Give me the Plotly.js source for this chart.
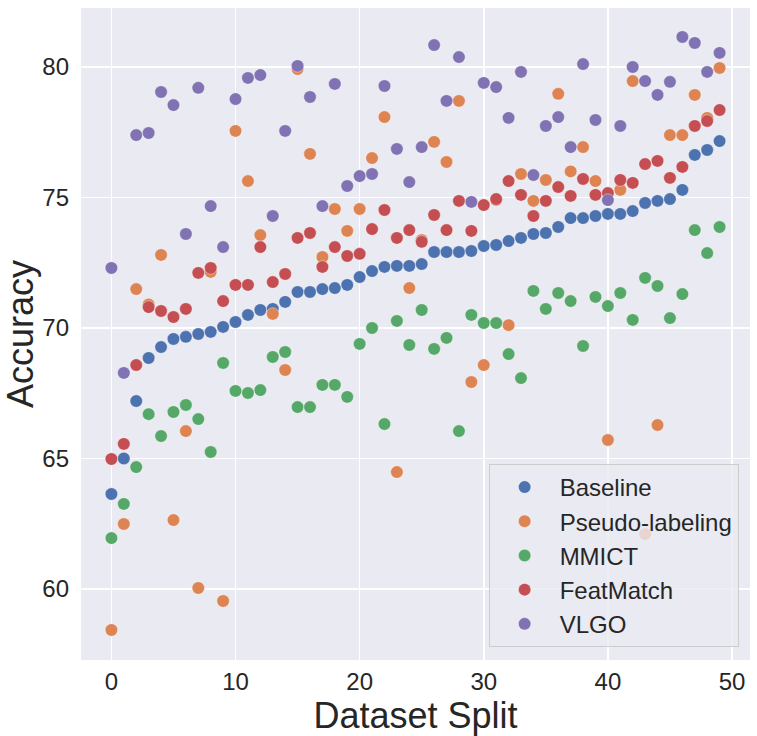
<!DOCTYPE html>
<html>
<head>
<meta charset="utf-8">
<script src="https://cdn.plot.ly/plotly-3.0.1.min.js"></script>
<style>html,body{margin:0;padding:0;background:#fff;}#chart{width:757px;height:736px;}</style>
</head>
<body>
<div id="chart"></div>
<script>
const seriesNames = ["Baseline", "Pseudo-labeling", "MMICT", "FeatMatch", "VLGO"];
const seriesColors = ["#4C72B0", "#DD8452", "#55A868", "#C44E52", "#8172B3"];

const splits = Array.from({length: 50}, (_, i) => i);

const baseline = [63.64, 65.0, 67.2, 68.85, 69.27, 69.58, 69.66, 69.77, 69.85, 70.04,
  70.23, 70.5, 70.69, 70.73, 71.0, 71.38, 71.38, 71.49, 71.53, 71.65,
  71.95, 72.18, 72.34, 72.38, 72.38, 72.45, 72.91, 72.91, 72.91, 72.95,
  73.14, 73.18, 73.33, 73.45, 73.6, 73.64, 73.87, 74.21, 74.21, 74.29,
  74.37, 74.37, 74.48, 74.79, 74.87, 74.94, 75.29, 76.63, 76.82, 77.16];

const pseudoLabeling = [58.43, 62.49, 71.49, 70.9, 72.8, 62.64, 66.05, 60.04, 72.15, 59.54,
  77.55, 75.63, 73.56, 70.54, 68.39, 79.92, 76.67, 72.72, 74.56, 73.72,
  74.56, 76.51, 78.08, 64.48, 71.53, 73.37, 77.13, 76.36, 78.7, 67.93,
  68.58, 74.9, 70.11, 75.9, 74.87, 75.67, 78.97, 76.0, 76.93, 75.63,
  65.71, 75.29, 79.46, 62.1, 66.28, 77.39, 77.39, 78.93, 78.05, 79.96];

const mmict = [61.95, 63.26, 64.67, 66.7, 65.86, 66.78, 67.05, 66.51, 65.25, 68.66,
  67.59, 67.51, 67.62, 68.89, 69.08, 66.97, 66.97, 67.82, 67.82, 67.36,
  69.39, 70.0, 66.32, 70.27, 69.35, 70.69, 69.2, 69.62, 66.05, 70.5,
  70.19, 70.19, 69.0, 68.08, 71.42, 70.73, 71.34, 71.03, 69.31, 71.19,
  70.84, 71.34, 70.31, 71.92, 71.61, 70.38, 71.3, 73.75, 72.87, 73.87];

const featMatch = [64.98, 65.56, 68.58, 70.8, 70.65, 70.42, 70.73, 72.11, 72.3, 71.03,
  71.65, 71.65, 73.1, 71.76, 72.07, 73.45, 73.64, 72.34, 73.1, 72.76,
  72.84, 73.79, 74.52, 73.45, 73.75, 73.3, 74.33, 73.75, 74.87, 73.72,
  74.71, 74.94, 75.63, 75.1, 74.29, 74.87, 75.4, 75.06, 75.71, 75.1,
  75.17, 75.67, 75.56, 76.28, 76.4, 75.75, 76.17, 77.74, 77.93, 78.35];

const vlgo = [72.3, 68.28, 77.39, 77.47, 79.04, 78.54, 73.6, 79.2, 74.67, 73.1,
  78.77, 79.58, 79.69, 74.29, 77.55, 80.04, 78.85, 74.67, 79.35, 75.44,
  75.82, 75.9, 79.27, 76.86, 75.59, 76.93, 80.84, 78.7, 80.38, 74.83,
  79.39, 79.23, 78.05, 79.81, 75.86, 77.74, 78.08, 76.93, 80.11, 77.97,
  74.9, 77.74, 80.0, 79.46, 78.93, 79.43, 81.15, 80.92, 79.81, 80.54];

const xTicks = [0, 10, 20, 30, 40, 50];
const yTicks = [60, 65, 70, 75, 80];

const allSeries = [baseline, pseudoLabeling, mmict, featMatch, vlgo];

const traces = allSeries.map((vals, k) => ({
  type: "scatter",
  mode: "markers",
  x: splits,
  y: vals,
  name: seriesNames[k],
  legendgroup: "g" + k,
  marker: {color: seriesColors[k], size: 12.5, line: {color: "#ffffff", width: 0.4}}
}));

const fontFam = "Liberation Sans, Arial, sans-serif";
const layout = {
  width: 757,
  height: 736,
  margin: {l: 81, r: 7, t: 8, b: 76, pad: 0},
  paper_bgcolor: "#ffffff",
  plot_bgcolor: "#EAEAF2",
  font: {family: fontFam, color: "#262626", size: 24},
  showlegend: true,
  legend: {
    x: 0.983, y: 0.02, xanchor: "right", yanchor: "bottom",
    bgcolor: "rgba(234,234,242,0.8)",
    bordercolor: "#cccccc",
    borderwidth: 1,
    font: {family: fontFam, size: 24, color: "#262626"},
    itemwidth: 60,
    tracegroupgap: 0
  },
  xaxis: {
    range: [-2.45, 51.45],
    tickmode: "array",
    tickvals: xTicks,
    ticktext: xTicks.map(String),
    showgrid: true, gridcolor: "#ffffff", gridwidth: 1.5,
    zeroline: false, showline: false, ticks: "",
    ticklabelstandoff: 5,
    tickfont: {size: 24, family: fontFam, color: "#262626"},
    title: {text: "Dataset Split", font: {size: 36, family: fontFam, color: "#262626"}, standoff: 1}
  },
  yaxis: {
    range: [57.28, 82.26],
    tickmode: "array",
    tickvals: yTicks,
    ticktext: yTicks.map(String),
    showgrid: true, gridcolor: "#ffffff", gridwidth: 1.5,
    zeroline: false, showline: false, ticks: "",
    ticklabelstandoff: 11,
    tickfont: {size: 24, family: fontFam, color: "#262626"},
    title: {text: "Accuracy", font: {size: 36, family: fontFam, color: "#262626"}, standoff: 6}
  }
};

Plotly.newPlot("chart", traces, layout, {displayModeBar: false, staticPlot: true});
</script>
</body>
</html>
